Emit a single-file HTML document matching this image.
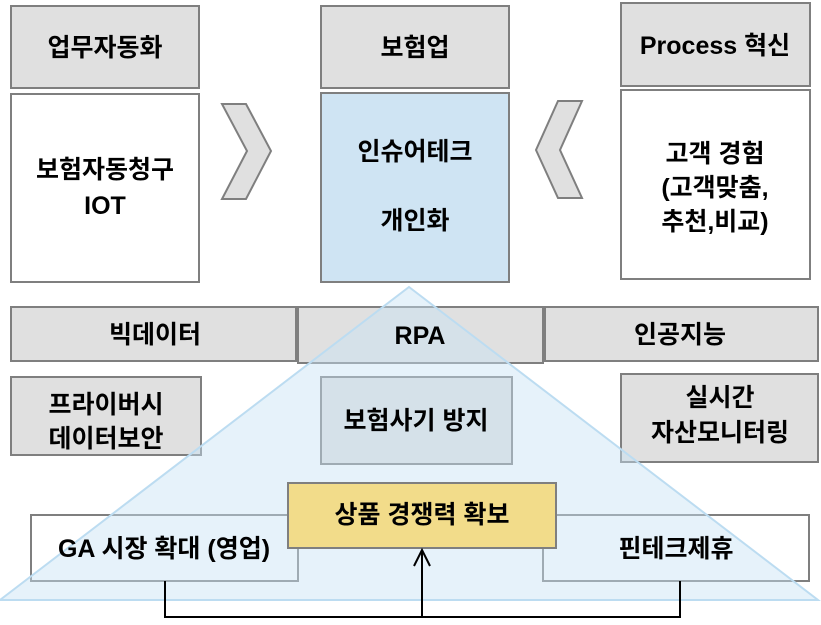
<!DOCTYPE html>
<html><head><meta charset="utf-8"><style>
html,body{margin:0;padding:0;background:#fff;}
svg text{font-family:"Liberation Sans","Noto Sans CJK KR","NanumGothic",sans-serif;font-weight:bold;font-size:25px;fill:#000;text-anchor:middle;}
</style></head><body>
<svg width="821" height="620" viewBox="0 0 821 620" xmlns="http://www.w3.org/2000/svg">
<g stroke="#7f7f7f" stroke-width="2">
<rect x="11" y="6" width="188" height="82" fill="#e0e0e0"/>
<rect x="11" y="94" width="188" height="188" fill="#fff"/>
<rect x="321" y="6" width="188" height="82" fill="#e0e0e0"/>
<rect x="321" y="93" width="188" height="189" fill="#cfe4f3"/>
<rect x="621" y="3" width="189" height="83" fill="#e0e0e0"/>
<rect x="621" y="90" width="189" height="189" fill="#fff"/>
<polygon points="222,104 246,104 271,151 246,199 222,199 247,151" fill="#e0e0e0"/>
<polygon points="582,101 558,101 536,150 558,198 582,198 560,150" fill="#e0e0e0"/>
<rect x="11" y="307" width="285" height="54" fill="#e0e0e0"/>
<rect x="298" y="307" width="245" height="56" fill="#e0e0e0"/>
<rect x="545" y="307" width="273" height="54" fill="#e0e0e0"/>
<rect x="11" y="377" width="190" height="78" fill="#e0e0e0"/>
<rect x="321" y="377" width="191" height="87" fill="#e0e0e0"/>
<rect x="621" y="374" width="197" height="88" fill="#e0e0e0"/>
<rect x="31" y="515" width="267" height="66" fill="#fff"/>
<rect x="543" y="515" width="266" height="66" fill="#fff"/>
</g>
<polygon points="409,287 818,600 0,600" fill="rgba(200,226,245,0.45)" stroke="#bcdcf1" stroke-width="2"/>
<rect x="288" y="483" width="268" height="65" fill="#f2dc8a" stroke="#7f7f7f" stroke-width="2"/>
<g stroke="#000" stroke-width="2" fill="none">
<polyline points="165,581 165,617 680,617 680,581"/>
<line x1="422" y1="617" x2="422" y2="550"/>
<polyline points="414,566 422,550 430,566"/>
</g>
<text x="105" y="56">업무자동화</text>
<text x="105" y="178">보험자동청구</text>
<text x="105" y="214">IOT</text>
<text x="415" y="56">보험업</text>
<text x="415" y="160">인슈어테크</text>
<text x="415" y="229">개인화</text>
<text x="715" y="54">Process 혁신</text>
<text x="715" y="162">고객 경험</text>
<text x="715" y="196">(고객맞춤,</text>
<text x="715" y="230">추천,비교)</text>
<text x="155" y="343">빅데이터</text>
<text x="420" y="344">RPA</text>
<text x="680" y="343">인공지능</text>
<text x="106" y="413">프라이버시</text>
<text x="106" y="447">데이터보안</text>
<text x="416" y="429">보험사기 방지</text>
<text x="720" y="406">실시간</text>
<text x="720" y="441">자산모니터링</text>
<text x="422" y="523">상품 경쟁력 확보</text>
<text x="164" y="557">GA 시장 확대 (영업)</text>
<text x="676" y="557">핀테크제휴</text>
</svg>
</body></html>
